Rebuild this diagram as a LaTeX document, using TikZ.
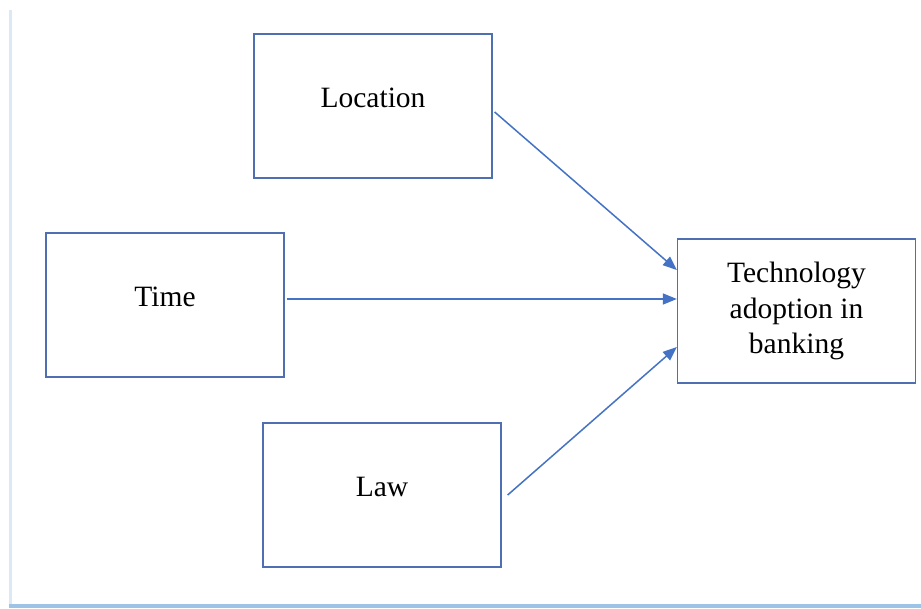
\documentclass[tikz,border=0pt]{standalone}
\usepackage{fontspec}
\setmainfont{Liberation Serif}
\newfontfamily\tnr{Liberation Serif}
\usetikzlibrary{arrows.meta}
\definecolor{boxblue}{HTML}{4F6FB3}
\definecolor{arrblue}{HTML}{4472C4}
\definecolor{leftframe}{HTML}{DCE8F6}
\definecolor{botframe}{HTML}{9DC3E6}
\begin{document}
\begin{tikzpicture}[x=1pt,y=-1pt,
  box/.style={draw=boxblue,line width=1.3pt,rectangle,minimum width=238pt,minimum height=144pt,
    inner sep=0pt,font=\tnr\fontsize{29.5}{35.5}\selectfont,align=center},
  onebox/.style={box,text depth=16pt},
  link/.style={draw=arrblue,line width=1.5pt,-{Triangle[length=14pt,width=11pt]}}]
\useasboundingbox (0,0) rectangle (921,608);
\fill[white] (0,0) rectangle (921,608);
\coordinate (fl1) at (10.5,10);
\coordinate (fl2) at (10.5,604);
\coordinate (fb1) at (9,605.5);
\coordinate (fb2) at (921,605.5);
\draw[leftframe,line width=3pt] (fl1) -- (fl2);
\draw[botframe,line width=4pt] (fb1) -- (fb2);
\node[onebox] (loc) at (373,106) {Location};
\node[onebox] (time) at (165,305) {Time};
\node[onebox] (law) at (382,495) {Law};
\node[box] (tech) at (796.5,311) {Technology\\adoption in\\banking};
\draw[link] ([xshift=2pt,yshift=-6pt]loc.east) -- ([yshift=41pt]tech.west);
\draw[link] ([xshift=2pt,yshift=6pt]time.east) -- ([yshift=12pt]tech.west);
\draw[link] ([xshift=6pt]law.east) -- ([yshift=-36pt]tech.west);
\end{tikzpicture}
\end{document}
